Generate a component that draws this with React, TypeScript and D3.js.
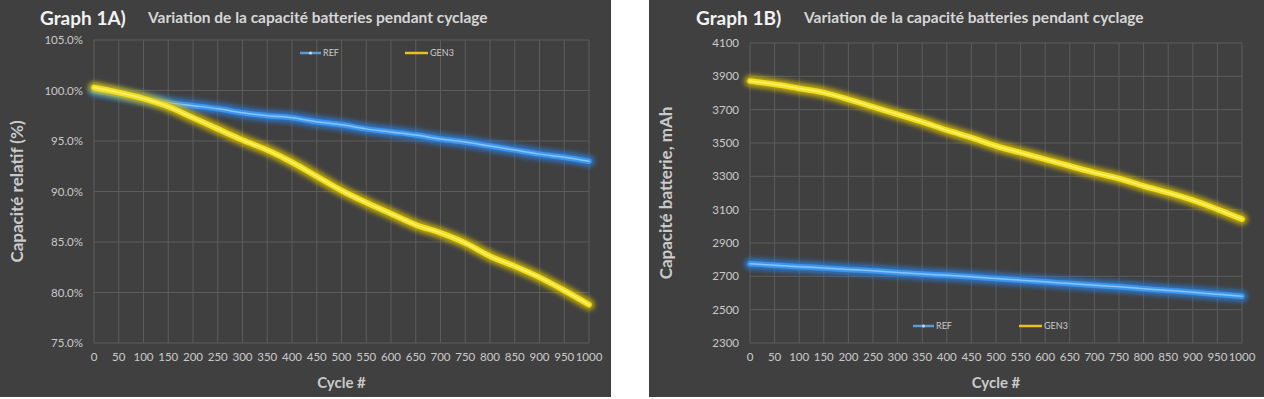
import React from "react";
import * as d3 from "d3";

// cycles (x values) shared by all series
const cycles = [0, 50, 100, 150, 200, 250, 300, 350, 400, 450, 500, 550, 600, 650, 700, 750, 800, 850, 900, 950, 1000];
const xTicks = [0, 50, 100, 150, 200, 250, 300, 350, 400, 450, 500, 550, 600, 650, 700, 750, 800, 850, 900, 950, 1000];

// Graph 1A - relative capacity (%)
const refPct = [100.0, 99.6, 99.2, 98.8, 98.5, 98.2, 97.8, 97.5, 97.3, 96.9, 96.6, 96.2, 95.9, 95.6, 95.2, 94.9, 94.5, 94.1, 93.7, 93.4, 93.0];
const gen3Pct = [100.3, 99.8, 99.2, 98.4, 97.3, 96.2, 95.1, 94.1, 92.9, 91.5, 90.1, 88.9, 87.8, 86.7, 85.9, 84.9, 83.6, 82.6, 81.5, 80.2, 78.8];
const pctTicks = [75, 80, 85, 90, 95, 100, 105];

// Graph 1B - capacity (mAh)
const refMah = [2775, 2767, 2758, 2750, 2741, 2733, 2723, 2714, 2706, 2697, 2687, 2677, 2667, 2657, 2647, 2637, 2626, 2615, 2604, 2592, 2580];
const gen3Mah = [3872, 3852, 3827, 3802, 3762, 3717, 3672, 3627, 3577, 3532, 3482, 3442, 3402, 3362, 3322, 3287, 3242, 3202, 3157, 3102, 3043];
const mahTicks = [2300, 2500, 2700, 2900, 3100, 3300, 3500, 3700, 3900, 4100];

const BG = "#404040";
const GRID = "#5c5c5c";
const TXT = "#cacaca";
const FONT = "Lato, 'Open Sans', sans-serif";

function GlowLine({ d, core, glow, light, id }) {
  return (
    <g>
      <path d={d} fill="none" stroke={glow} strokeWidth={11} strokeLinecap="round" strokeLinejoin="round" filter={`url(#${id})`} opacity={0.85} />
      <path d={d} fill="none" stroke={core} strokeWidth={5.5} strokeLinecap="round" strokeLinejoin="round" />
      <path d={d} fill="none" stroke={light} strokeWidth={1.5} strokeLinecap="round" strokeLinejoin="round" opacity={0.8} />
    </g>
  );
}

function Panel({ x0, width, label, yTitle, yTicks, yDomain, fmt, refVals, gen3Vals, plot, legendY, legendX }) {
  const x = d3.scaleLinear().domain([0, 1000]).range([plot.left, plot.right]);
  const y = d3.scaleLinear().domain(yDomain).range([plot.bottom, plot.top]);
  const line = d3
    .line<number>()
    .x((_, i) => x(cycles[i]))
    .y((d) => y(d))
    .curve(d3.curveMonotoneX);
  const fid = "blur" + label.replace(/\W/g, "");
  return (
    <g>
      <defs>
        <filter id={fid} x="-10%" y="-50%" width="120%" height="200%">
          <feGaussianBlur stdDeviation={2.4} />
        </filter>
      </defs>
      <rect x={x0} y={0} width={width} height={397} fill={BG} />
      <text x={plot.left - 54} y={25} fill="#f2f2f2" fontFamily={FONT} fontWeight={700} fontSize={19}>
        {label}
      </text>
      <text x={plot.left + 54} y={23} fill="#d6d6d6" fontFamily={FONT} fontWeight={700} fontSize={15.5}>
        Variation de la capacité batteries pendant cyclage
      </text>
      {xTicks.map((t) => (
        <line key={"vx" + t} x1={x(t)} x2={x(t)} y1={plot.top} y2={plot.bottom} stroke={GRID} strokeWidth={1} />
      ))}
      {yTicks.map((t) => (
        <line key={"hy" + t} x1={plot.left} x2={plot.right} y1={y(t)} y2={y(t)} stroke={GRID} strokeWidth={1} />
      ))}
      {yTicks.map((t) => (
        <text key={"ly" + t} x={plot.left - 11} y={y(t) + 4} textAnchor="end" fill={TXT} fontFamily={FONT} fontSize={11.5}>
          {fmt(t)}
        </text>
      ))}
      {xTicks.map((t) => (
        <text key={"lx" + t} x={x(t)} y={plot.bottom + 18} textAnchor="middle" fill={TXT} fontFamily={FONT} fontSize={11.5}>
          {t}
        </text>
      ))}
      <text x={(plot.left + plot.right) / 2} y={388} textAnchor="middle" fill={TXT} fontFamily={FONT} fontWeight={700} fontSize={15}>
        Cycle #
      </text>
      <text
        transform={`translate(${x0 + 23},${(plot.top + plot.bottom) / 2}) rotate(-90)`}
        textAnchor="middle"
        fill={TXT}
        fontFamily={FONT}
        fontWeight={700}
        fontSize={17}
      >
        {yTitle}
      </text>
      {/* legend */}
      <line x1={legendX[0]} x2={legendX[0] + 21} y1={legendY} y2={legendY} stroke="#5b9bd5" strokeWidth={2.5} />
      <circle cx={legendX[0] + 10.5} cy={legendY} r={1.6} fill="#b9d7f2" />
      <text x={legendX[0] + 23} y={legendY + 3} fill={TXT} fontFamily={FONT} fontSize={9}>
        REF
      </text>
      <line x1={legendX[1]} x2={legendX[1] + 23} y1={legendY} y2={legendY} stroke="#e8c21a" strokeWidth={2.5} />
      <text x={legendX[1] + 25} y={legendY + 3} fill={TXT} fontFamily={FONT} fontSize={9}>
        GEN3
      </text>
      <GlowLine d={line(refVals) || ""} core="#3d95ec" glow="#2a7fe0" light="#9ccfff" id={fid} />
      <GlowLine d={line(gen3Vals) || ""} core="#f5e020" glow="#d8c000" light="#fff58a" id={fid} />
    </g>
  );
}

export default function App() {
  return (
    <div style={{ position: "fixed", left: 0, top: 0 }}>
      <svg width={1264} height={399} style={{ display: "block", background: "#ffffff" }}>
        <Panel
          x0={0}
          width={611}
          label="Graph 1A)"
          yTitle="Capacité relatif (%)"
          yTicks={pctTicks}
          yDomain={[75, 105]}
          fmt={(t) => t.toFixed(1) + "%"}
          refVals={refPct}
          gen3Vals={gen3Pct}
          plot={{ left: 94, right: 589, top: 40, bottom: 343 }}
          legendY={53}
          legendX={[300, 405]}
        />
        <Panel
          x0={649}
          width={615}
          label="Graph 1B)"
          yTitle="Capacité batterie, mAh"
          yTicks={mahTicks}
          yDomain={[2300, 4100]}
          fmt={(t) => String(t)}
          refVals={refMah}
          gen3Vals={gen3Mah}
          plot={{ left: 750, right: 1242, top: 43, bottom: 343 }}
          legendY={326}
          legendX={[913, 1019]}
        />
      </svg>
    </div>
  );
}
